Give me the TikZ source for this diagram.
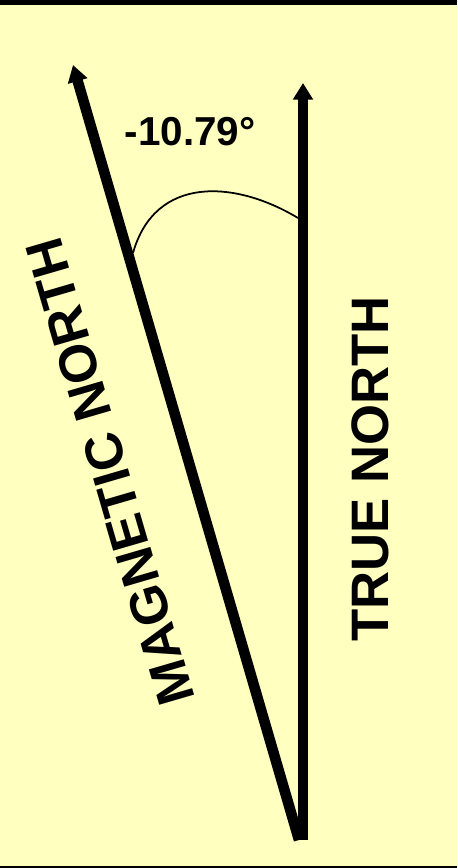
\documentclass[tikz,border=0pt]{standalone}
\usepackage{fontspec}
\setmainfont{Liberation Sans}
\usetikzlibrary{arrows.meta}
\definecolor{paper}{HTML}{FFFFC0}

\begin{document}
\begin{tikzpicture}[x=0.02cm, y=-0.02cm,
    every node/.style={font=\bfseries},
    needle/.style={line width=6pt, -{Triangle[width=11pt, length=9.5pt]}},
    biglabel/.style={font=\bfseries\fontsize{30}{36}\selectfont}]

  % ==================================================
  % Sheet (yellow paper, black rules top and bottom)
  % ==================================================
  \fill[paper] (0,0) rectangle (457,868);
  \fill[black] (0,0) rectangle (457,5.5);
  \fill[black] (0,866) rectangle (457,868);
  \useasboundingbox (0,0) rectangle (457,868);

  % ==================================================
  % The two needles
  % ==================================================
  % -- end points
  \coordinate (magbase) at (299,840);
  \coordinate (magtip) at (73,65);
  \coordinate (truebase) at (303,840);
  \coordinate (truetip) at (303,83);

  % -- magnetic north (tilted) and true north (vertical)
  \draw[needle] (magbase) -- (magtip);
  \draw[needle] (truebase) -- (truetip);

  % ==================================================
  % Angle between them
  % ==================================================
  \coordinate (arcstart) at (133,253);
  \coordinate (arcend) at (298,218);
  \draw[line width=1pt]
  (arcstart) .. controls (155,175) and (235,180) .. (arcend);
  \node[font=\bfseries\fontsize{23}{28}\selectfont] (angle) at (190,132) {-10.79°};

  % -- labels along the needles
  \node[biglabel, rotate=106.26] (magname) at (110,472) {MAGNETIC NORTH};
  \node[biglabel, rotate=90] (truename) at (370,469) {TRUE NORTH};

\end{tikzpicture}
\end{document}
